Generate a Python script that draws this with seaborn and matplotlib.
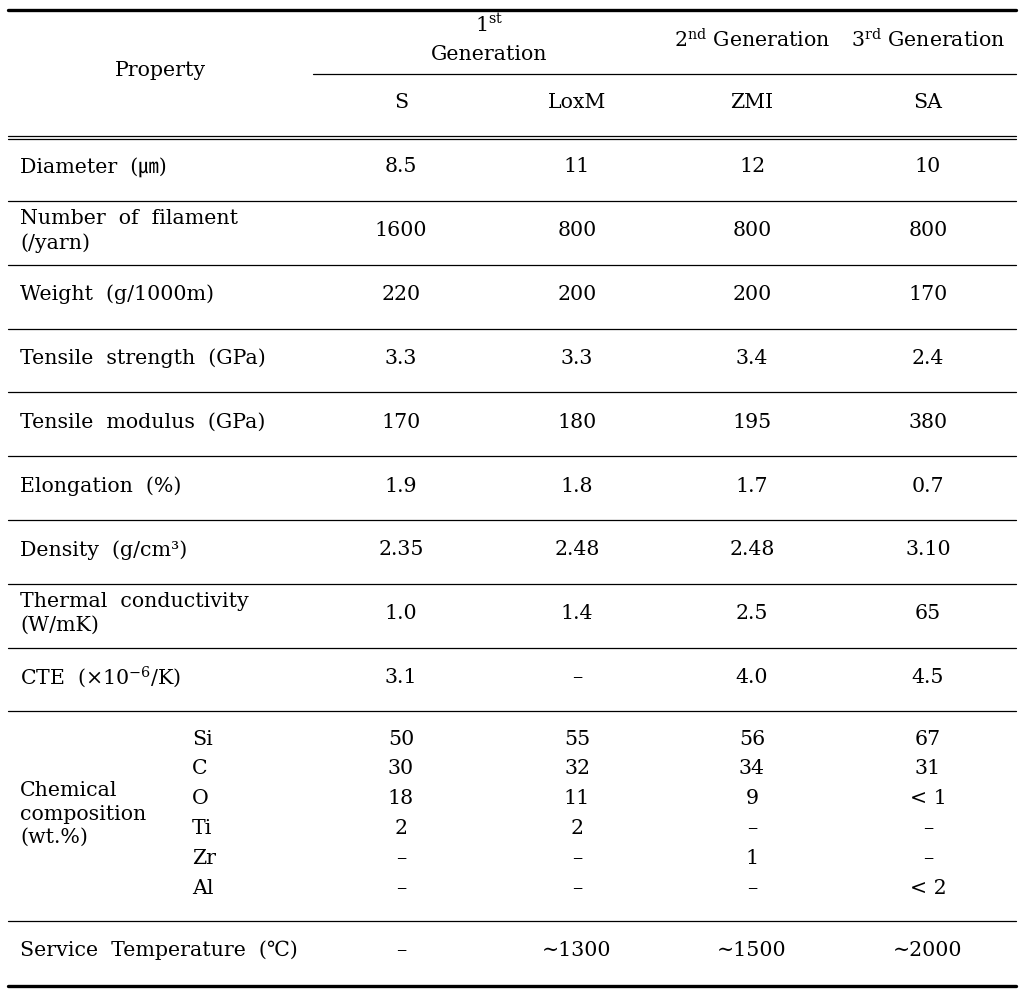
import matplotlib
matplotlib.use("Agg")
import matplotlib.pyplot as plt
import seaborn as sns

# table content
properties = ["Diameter  (㎛)", "Number  of  filament\n(/yarn)", "Weight  (g/1000m)",
              "Tensile  strength  (GPa)", "Tensile  modulus  (GPa)", "Elongation  (%)",
              "Density  (g/cm³)", "Thermal  conductivity\n(W/mK)", r"CTE  (×$10^{-6}$/K)"]
fibers = ["S", "LoxM", "ZMI", "SA"]
s_vals = ["8.5", "1600", "220", "3.3", "170", "1.9", "2.35", "1.0", "3.1"]
loxm_vals = ["11", "800", "200", "3.3", "180", "1.8", "2.48", "1.4", "–"]
zmi_vals = ["12", "800", "200", "3.4", "195", "1.7", "2.48", "2.5", "4.0"]
sa_vals = ["10", "800", "170", "2.4", "380", "0.7", "3.10", "65", "4.5"]

elements = ["Si", "C", "O", "Ti", "Zr", "Al"]
comp_s = ["50", "30", "18", "2", "–", "–"]
comp_loxm = ["55", "32", "11", "2", "–", "–"]
comp_zmi = ["56", "34", "9", "–", "1", "–"]
comp_sa = ["67", "31", "< 1", "–", "–", "< 2"]

service_label = "Service  Temperature  (℃)"
service_vals = ["–", "∼1300", "∼1500", "∼2000"]

sns.set_theme(style="white")
plt.rcParams['font.family'] = ['DejaVu Serif', 'Noto Sans CJK KR']
plt.rcParams['mathtext.fontset'] = 'dejavuserif'
plt.rcParams['text.color'] = 'black'

FS = 14.8
col_x = [401, 577, 752, 928]
left_x = 20
x0, x1 = 8, 1016

fig = plt.figure(figsize=(10.24, 9.97), dpi=100)
ax = fig.add_axes([0, 0, 1, 1])
ax.set_xlim(0, 1024)
ax.set_ylim(997, 0)
ax.axis('off')

# rules
ax.plot([x0, x1], [10, 10], color='black', lw=2.4)
ax.plot([313, x1], [74, 74], color='black', lw=0.9)
ax.plot([x0, x1], [136, 136], color='black', lw=0.9)
ax.plot([x0, x1], [139.5, 139.5], color='black', lw=0.9)
ax.plot([x0, x1], [986, 986], color='black', lw=2.4)

# header
ax.text(160, 71, "Property", fontsize=FS, ha='center', va='center')
ax.text(489, 25, r"$1^{\mathrm{st}}$", fontsize=FS, ha='center', va='center')
ax.text(489, 54, "Generation", fontsize=FS, ha='center', va='center')
ax.text(col_x[2], 40, r"$2^{\mathrm{nd}}$ Generation", fontsize=FS, ha='center', va='center')
ax.text(col_x[3], 40, r"$3^{\mathrm{rd}}$ Generation", fontsize=FS, ha='center', va='center')
for cx, name in zip(col_x, fibers):
    ax.text(cx, 103, name, fontsize=FS, ha='center', va='center')

# simple rows
row_h = 63.8
columns = [s_vals, loxm_vals, zmi_vals, sa_vals]
for i, prop in enumerate(properties):
    yc = 167 + row_h * i
    ax.text(left_x, yc, prop, fontsize=FS, ha='left', va='center', linespacing=1.35)
    for cx, vals in zip(col_x, columns):
        ax.text(cx, yc, vals[i], fontsize=FS, ha='center', va='center')
    ax.plot([x0, x1], [201 + row_h * i] * 2, color='black', lw=0.9)

# chemical composition block
ax.text(left_x, 814, "Chemical\ncomposition\n(wt.%)", fontsize=FS, ha='left', va='center',
        linespacing=1.3)
comp_cols = [comp_s, comp_loxm, comp_zmi, comp_sa]
for j, el in enumerate(elements):
    yc = 739 + 29.8 * j
    ax.text(192, yc, el, fontsize=FS, ha='left', va='center')
    for cx, vals in zip(col_x, comp_cols):
        ax.text(cx, yc, vals[j], fontsize=FS, ha='center', va='center')
ax.plot([x0, x1], [921, 921], color='black', lw=0.9)

# service temperature
ax.text(left_x, 950, service_label, fontsize=FS, ha='left', va='center')
for cx, v in zip(col_x, service_vals):
    ax.text(cx, 950, v, fontsize=FS, ha='center', va='center')

fig.savefig("out.png", dpi=100)
